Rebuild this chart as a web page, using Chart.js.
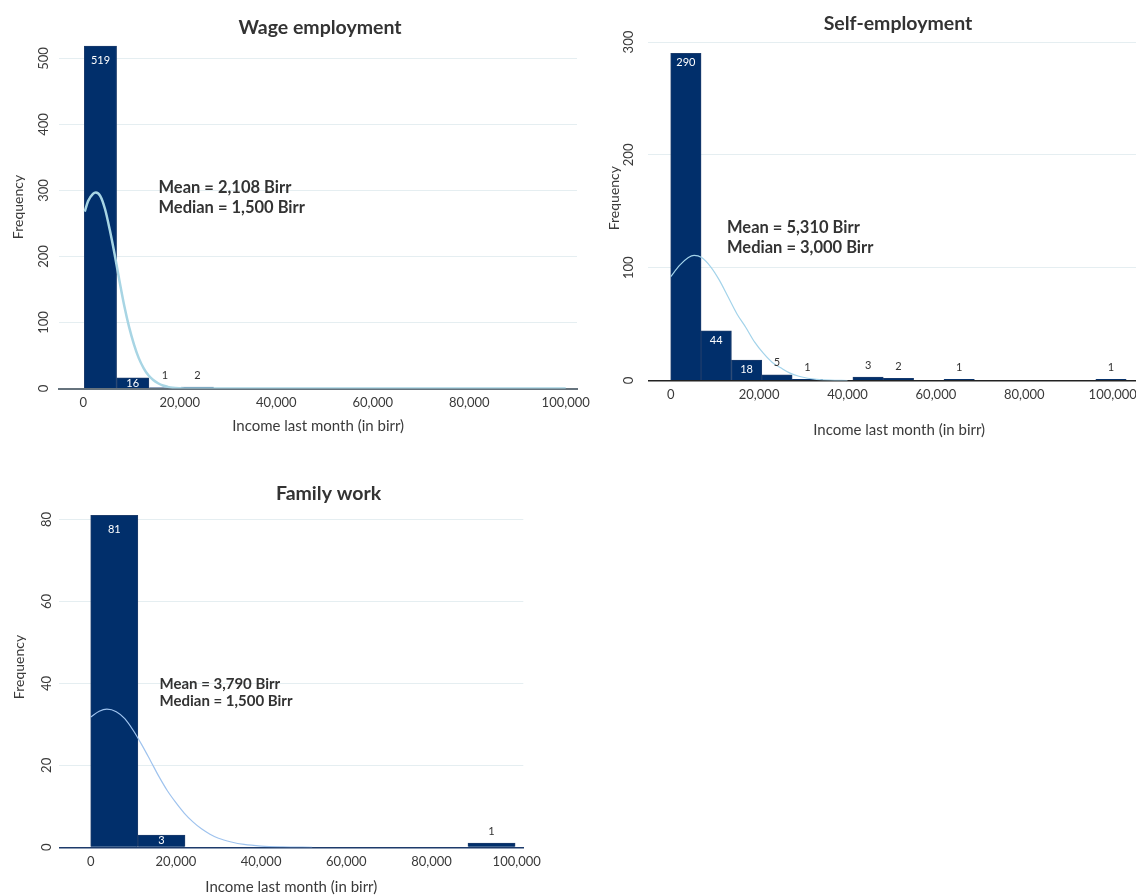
<!DOCTYPE html>
<html>
<head>
<meta charset="utf-8">
<title>Income last month by type of work</title>
<script src="https://cdn.jsdelivr.net/npm/chart.js@4.4.1/dist/chart.umd.min.js"></script>
<style>
  html, body { margin: 0; padding: 0; background: #ffffff; overflow: hidden; width: 1136px; height: 895px; }
  canvas.panel { position: absolute; }
</style>
</head>
<body>
<canvas id="wage" class="panel" width="640" height="445" style="left:0px;top:0px"></canvas>
<canvas id="self" class="panel" width="596" height="445" style="left:600px;top:0px"></canvas>
<canvas id="family" class="panel" width="657" height="440" style="left:0px;top:460px"></canvas>
<script>
// ---- shared axis labels ----
const incomeTicks = [0, 20000, 40000, 60000, 80000, 100000];
const incomeTitle = 'Income last month (in birr)';
const freqTitle = 'Frequency';

// ---- Wage employment ----
const wageTitle = 'Wage employment';
const wageBinStart = 207;
const wageBinWidth = 6696;
const wageCounts = [519, 16, 1, 2, 0, 0, 0, 0, 0, 0, 0, 0, 0, 0, 0];
const wageCurveX = [300, 1000, 2000, 2600, 3500, 4500, 5500, 6500, 7500, 8500, 9500, 10500, 11500, 12500, 13500, 14500, 15500, 16500, 17500, 18500, 20000, 22000, 100000];
const wageCurveY = [268, 284, 295, 297, 292, 272, 240, 203, 163, 125, 93, 67, 46, 31, 20, 13, 8, 4.5, 2.5, 1.2, 0.4, 0, 0];
const wageYTicks = [0, 100, 200, 300, 400, 500];
const wageStats = ['Mean = 2,108 Birr', 'Median = 1,500 Birr'];

// ---- Self-employment ----
const selfTitle = 'Self-employment';
const selfBinStart = 0;
const selfBinWidth = 6870;
const selfCounts = [290, 44, 18, 5, 1, 0, 3, 2, 0, 1, 0, 0, 0, 0, 1];
const selfCurveX = [0, 2000, 4000, 5300, 7000, 9000, 11000, 13000, 15000, 17000, 19000, 21000, 23000, 25000, 27000, 29000, 31000, 33000, 36000, 40000];
const selfCurveY = [92, 102, 109, 111, 109, 101, 89, 74, 59, 47, 34, 24, 16, 11, 6.5, 3.8, 2, 1, 0.3, 0];
const selfYTicks = [0, 100, 200, 300];
const selfStats = ['Mean = 5,310 Birr', 'Median = 3,000 Birr'];

// ---- Family work ----
const familyTitle = 'Family work';
const familyBinStart = 0;
const familyBinWidth = 11070;
const familyCounts = [81, 3, 0, 0, 0, 0, 0, 0, 1];
const familyCurveX = [0, 2000, 3800, 6000, 8000, 10000, 12000, 14000, 16000, 18000, 20000, 22000, 24000, 26000, 28000, 30000, 33000, 36000, 40000, 45000, 52000];
const familyCurveY = [31.8, 33.2, 33.7, 33.1, 31.4, 28.5, 25, 21.2, 17.3, 13.8, 10.9, 8.3, 6.2, 4.5, 3.2, 2.2, 1.3, 0.7, 0.3, 0.1, 0];
const familyYTicks = [0, 20, 40, 60, 80];
const familyStats = ['Mean = 3,790 Birr', 'Median = 1,500 Birr'];

Chart.defaults.font.family = 'Lato, "Open Sans", sans-serif';
Chart.defaults.color = '#3a3a3a';

const NAVY = '#012f6b';
const TEXT = '#333333';

// Count labels on the bars and the mean / median note
const histLabels = {
  id: 'histLabels',
  afterDatasetsDraw(chart, args, opts) {
    const ctx = chart.ctx;
    const ds = chart.data.datasets[opts.barIndex];
    const meta = chart.getDatasetMeta(opts.barIndex);
    ctx.save();
    ctx.textAlign = 'center';
    ctx.textBaseline = 'middle';
    ctx.font = '11px Lato, sans-serif';
    meta.data.forEach((bar, i) => {
      const v = ds.data[i].y;
      if (!v) return;
      const h = bar.base - bar.y;
      if (h >= 8) {
        ctx.fillStyle = '#ffffff';
        ctx.fillText(String(v), bar.x, bar.y + Math.min(opts.inside, h / 2));
      } else {
        ctx.fillStyle = TEXT;
        ctx.fillText(String(v), bar.x, bar.y - 12);
      }
    });
    const nx = chart.scales.x.getPixelForValue(opts.noteX);
    const ny = chart.scales.y.getPixelForValue(opts.noteY);
    ctx.textAlign = 'left';
    ctx.fillStyle = TEXT;
    ctx.font = 'bold ' + opts.noteSize + 'px Lato, sans-serif';
    opts.lines.forEach((t, k) => ctx.fillText(t, nx, ny + k * opts.noteGap));
    ctx.restore();
  }
};

function makeHistogram(id, p) {
  const bars = p.counts.map((c, i) => ({ x: p.binStart + p.binWidth * (i + 0.5), y: c }));
  const curve = p.curveX.map((x, i) => ({ x: x, y: p.curveY[i] }));
  return new Chart(document.getElementById(id), {
    type: 'bar',
    data: {
      datasets: [
        {
          type: 'line',
          data: curve,
          borderColor: p.curveColor,
          borderWidth: p.curveWidth,
          pointRadius: 0,
          cubicInterpolationMode: 'monotone',
          fill: false,
          order: 0
        },
        {
          type: 'bar',
          data: bars,
          backgroundColor: NAVY,
          borderColor: '#1d3d6c',
          borderWidth: 1,
          borderSkipped: 'bottom',
          barPercentage: 1,
          categoryPercentage: 1,
          order: 1
        }
      ]
    },
    options: {
      responsive: false,
      animation: false,
      events: [],
      layout: { padding: 0 },
      scales: {
        x: {
          type: 'linear',
          min: p.xMin,
          max: p.xMax,
          offset: false,
          afterBuildTicks: s => { s.ticks = incomeTicks.map(v => ({ value: v })); },
          afterFit: s => { s.height = p.xHeight; },
          grid: { display: true, color: 'rgba(0,0,0,0)', drawTicks: false, offset: false },
          border: { display: true, color: p.axisColor, width: p.axisWidth },
          ticks: {
            padding: 7, maxRotation: 0, autoSkip: false, color: '#3a3a3a',
            font: { size: 13 },
            callback: v => Number(v).toLocaleString('en-US')
          },
          title: {
            display: true, text: incomeTitle, color: '#3a3a3a',
            font: { size: 15 }, padding: { top: 0, bottom: p.xTitlePad }
          }
        },
        y: {
          type: 'linear',
          position: 'left',
          min: 0,
          max: p.yMax,
          afterBuildTicks: s => { s.ticks = p.yTicks.map(v => ({ value: v })); },
          afterFit: s => { s.width = p.yWidth; },
          grid: { color: '#e5eef1', lineWidth: 1, drawTicks: false },
          border: { display: false },
          ticks: {
            padding: p.yTickPad, minRotation: 90, maxRotation: 90, crossAlign: 'center',
            color: '#3a3a3a', font: { size: 13 }
          },
          title: {
            display: true, text: freqTitle, color: '#3a3a3a',
            font: { size: 14 }, padding: { top: p.yTitlePad, bottom: 0 }
          }
        },
        edge: {
          type: 'linear',
          position: 'right',
          display: true,
          afterFit: s => { s.width = p.rightGap; },
          grid: { display: false, drawTicks: false },
          border: { display: false },
          ticks: { display: false },
          title: { display: false }
        }
      },
      plugins: {
        legend: { display: false },
        tooltip: { enabled: false },
        title: {
          display: true, text: p.title, color: TEXT,
          font: { size: 19.5, weight: 'bold' },
          padding: { top: p.titleTop, bottom: p.titleBottom }
        },
        histLabels: {
          barIndex: 1,
          inside: p.inside,
          lines: p.stats,
          noteX: p.noteX,
          noteY: p.noteY,
          noteSize: p.noteSize,
          noteGap: p.noteGap
        }
      }
    },
    plugins: [histLabels]
  });
}

makeHistogram('wage', {
  title: wageTitle, counts: wageCounts, binStart: wageBinStart, binWidth: wageBinWidth,
  curveX: wageCurveX, curveY: wageCurveY, yTicks: wageYTicks, stats: wageStats,
  curveColor: '#a8d5e4', curveWidth: 2.5, axisColor: '#66737d', axisWidth: 2,
  xMin: -4975, xMax: 102345, yMax: 550,
  yWidth: 59.3, rightGap: 63, xHeight: 56.5,
  titleTop: 15.8, titleBottom: -13.7, xTitlePad: 10, yTickPad: 4, yTitlePad: 10.1,
  inside: 14.5, noteX: 15590, noteY: 305, noteSize: 16.5, noteGap: 20
});

makeHistogram('self', {
  title: selfTitle, counts: selfCounts, binStart: selfBinStart, binWidth: selfBinWidth,
  curveX: selfCurveX, curveY: selfCurveY, yTicks: selfYTicks, stats: selfStats,
  curveColor: '#a3d3ea', curveWidth: 1.2, axisColor: '#222222', axisWidth: 1.5,
  xMin: -5068, xMax: 108439, yMax: 323.3,
  yWidth: 48.3, rightGap: 46, xHeight: 64.5,
  titleTop: 9.8, titleBottom: -19.7, xTitlePad: 6, yTickPad: 8, yTitlePad: 5.6,
  inside: 9.5, noteX: 12740, noteY: 135.7, noteSize: 16.5, noteGap: 20.5
});

makeHistogram('family', {
  title: familyTitle, counts: familyCounts, binStart: familyBinStart, binWidth: familyBinWidth,
  curveX: familyCurveX, curveY: familyCurveY, yTicks: familyYTicks, stats: familyStats,
  curveColor: '#9fc3ee', curveWidth: 1.2, axisColor: '#1d3b6b', axisWidth: 1.5,
  xMin: -7371, xMax: 101549, yMax: 88,
  yWidth: 59.3, rightGap: 133.7, xHeight: 52.7,
  titleTop: 21.8, titleBottom: -18.5, xTitlePad: 4, yTickPad: 5.2, yTitlePad: 11.3,
  inside: 14, noteX: 16150, noteY: 39.8, noteSize: 15, noteGap: 17
});
</script>
</body>
</html>
